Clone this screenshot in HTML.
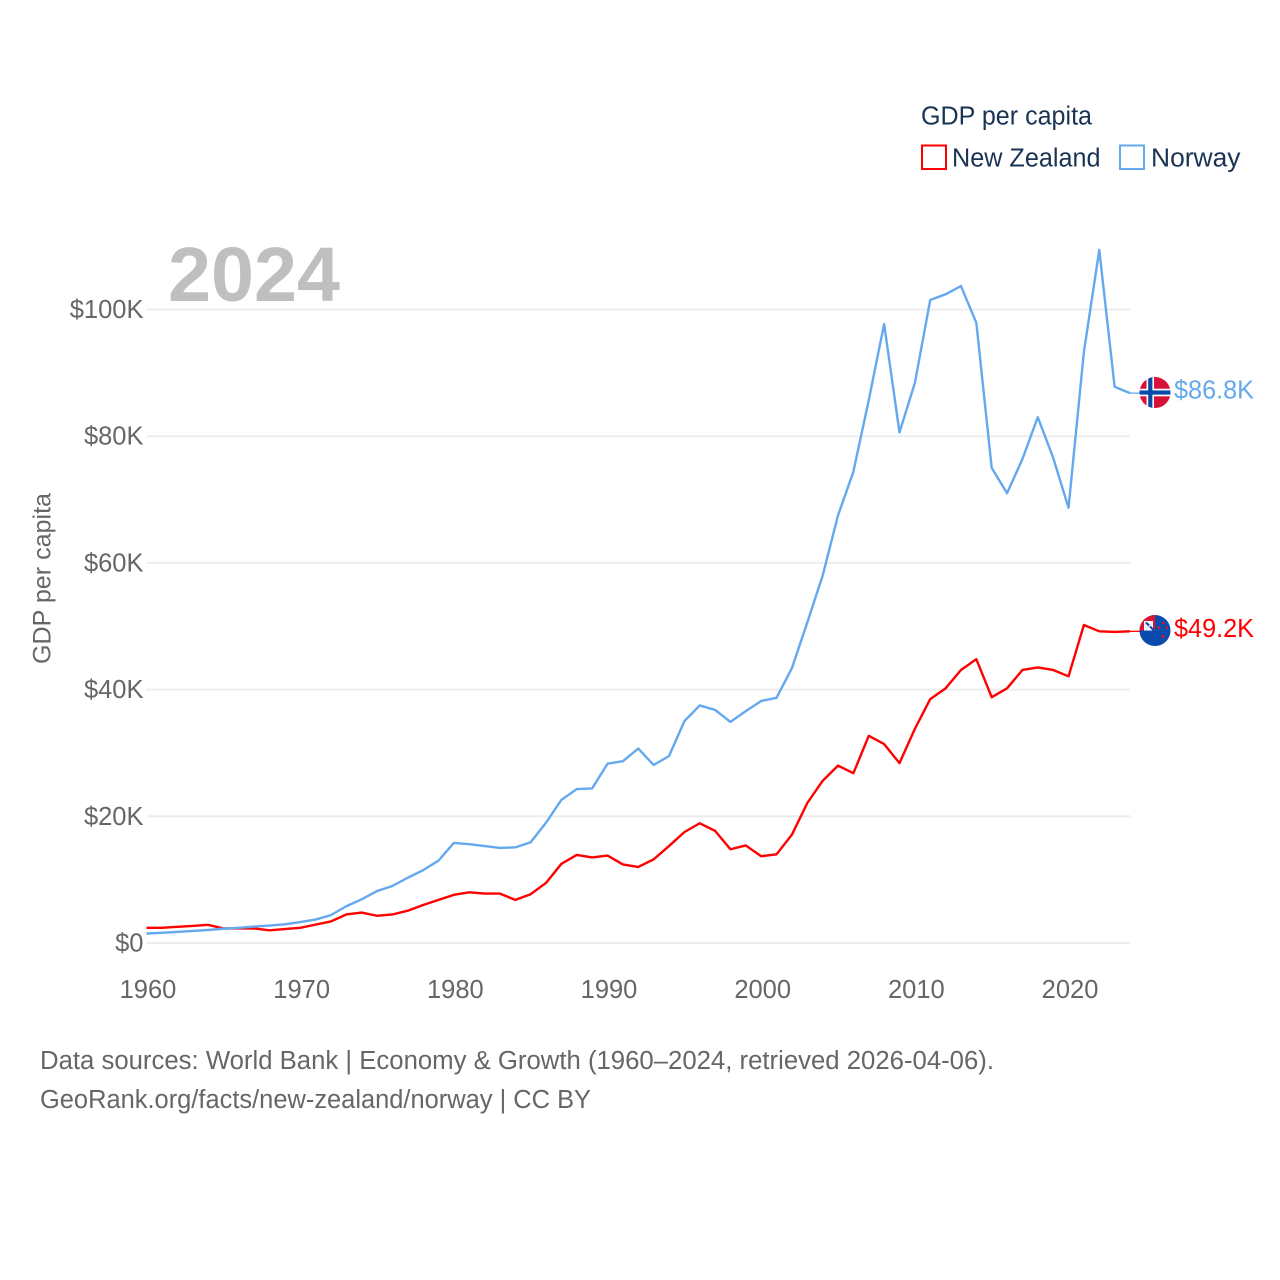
<!DOCTYPE html>
<html lang="en">
<head>
<meta charset="utf-8">
<title>GDP per capita: New Zealand and Norway</title>
<style>
html,body{margin:0;padding:0;background:#fff;}
svg{display:block;font-family:"Liberation Sans",sans-serif;}
</style>
</head>
<body>
<svg id="chart" width="1280" height="1280" viewBox="0 0 1280 1280" xmlns="http://www.w3.org/2000/svg">
  <defs>
    <clipPath id="clip-no"><circle cx="0" cy="0" r="15.5"/></clipPath>
    <clipPath id="clip-nz"><circle cx="0" cy="0" r="15.5"/></clipPath>
  </defs>
  <rect width="1280" height="1280" fill="#fff"/>
  <g id="grid"></g>
  <g id="y-ticks"></g>
  <g id="x-ticks"></g>
  <text x="168" y="301" font-size="77" font-weight="700" fill="#bfbfbf" textLength="172" lengthAdjust="spacingAndGlyphs">2024</text>
  <text transform="translate(50.5,578.5) rotate(-90)" text-anchor="middle" font-size="25" fill="#666" textLength="171" lengthAdjust="spacingAndGlyphs">GDP per capita</text>
  <g id="series"></g>

  <g id="flag-no" clip-path="url(#clip-no)">
    <rect x="-16" y="-16" width="32" height="32" fill="#d8113a"/>
    <rect x="-8.5" y="-16" width="7.5" height="32" fill="#fff"/>
    <rect x="-16" y="-3.8" width="32" height="7.6" fill="#fff"/>
    <rect x="-6.8" y="-16" width="4.2" height="32" fill="#0a4aa8"/>
    <rect x="-16" y="-2.1" width="32" height="4.2" fill="#0a4aa8"/>
  </g>
  <g id="flag-nz" clip-path="url(#clip-nz)">
    <rect x="-16" y="-16" width="32" height="32" fill="#0a4cae"/>
    <rect x="-16" y="-16" width="16" height="16" fill="#e0122f"/>
    <rect x="-11" y="-9.5" width="9" height="9.5" fill="#fff"/>
    <path d="M-9-8 L-1 0" stroke="#0a4cae" stroke-width="2.2"/>
    <path d="M-9-1 L-3-7" stroke="#dfe6f4" stroke-width="1.5"/>
    <circle cx="8" cy="-7.5" r="1.3" fill="#e0122f"/>
    <circle cx="4" cy="-3" r="1.3" fill="#e0122f"/>
    <circle cx="11.5" cy="-3" r="1.3" fill="#e0122f"/>
    <circle cx="8" cy="6" r="1.5" fill="#e0122f"/>
  </g>
  <text id="label-no" font-size="25.5" fill="#64a8ee" textLength="80" lengthAdjust="spacingAndGlyphs"></text>
  <text id="label-nz" font-size="25.5" fill="#ff0000" textLength="80" lengthAdjust="spacingAndGlyphs"></text>

  <g>
    <text x="921" y="124.5" font-size="25.5" fill="#1a3354" textLength="171" lengthAdjust="spacingAndGlyphs">GDP per capita</text>
    <g>
      <rect x="922" y="145.5" width="24" height="23.5" fill="#fff" stroke="#ff0000" stroke-width="2"/>
      <text x="952" y="166.5" font-size="25.5" fill="#1a3354" textLength="148.5" lengthAdjust="spacingAndGlyphs">New Zealand</text>
    </g>
    <g>
      <rect x="1120" y="145.5" width="24" height="23.5" fill="#fff" stroke="#64a8ee" stroke-width="2"/>
      <text x="1151" y="166.5" font-size="25.5" fill="#1a3354" textLength="89.5" lengthAdjust="spacingAndGlyphs">Norway</text>
    </g>
  </g>

  <g>
    <text x="40" y="1069" font-size="25.5" fill="#666" textLength="954" lengthAdjust="spacingAndGlyphs">Data sources: World Bank | Economy &amp; Growth (1960–2024, retrieved 2026-04-06).</text>
    <text x="40" y="1108" font-size="25.5" fill="#666" textLength="551" lengthAdjust="spacingAndGlyphs">GeoRank.org/facts/new-zealand/norway | CC BY</text>
  </g>
</svg>
<script>
const years = [1960,1961,1962,1963,1964,1965,1966,1967,1968,1969,1970,1971,1972,1973,1974,1975,1976,1977,1978,1979,1980,1981,1982,1983,1984,1985,1986,1987,1988,1989,1990,1991,1992,1993,1994,1995,1996,1997,1998,1999,2000,2001,2002,2003,2004,2005,2006,2007,2008,2009,2010,2011,2012,2013,2014,2015,2016,2017,2018,2019,2020,2021,2022,2023,2024];
const newZealand = [2.4,2.4,2.55,2.7,2.87,2.3,2.3,2.3,2.0,2.2,2.4,2.9,3.4,4.5,4.8,4.3,4.5,5.1,6.0,6.8,7.6,8.0,7.8,7.8,6.8,7.7,9.5,12.5,13.9,13.5,13.8,12.4,12.0,13.2,15.3,17.5,18.9,17.7,14.8,15.4,13.7,14.0,17.1,22.1,25.6,28.0,26.8,32.7,31.4,28.4,33.8,38.5,40.2,43.1,44.8,38.8,40.2,43.1,43.5,43.1,42.1,50.2,49.2,49.1,49.2];
const norway = [1.5,1.6,1.75,1.9,2.05,2.25,2.4,2.6,2.75,2.95,3.3,3.7,4.4,5.8,6.9,8.2,9.0,10.3,11.5,13.0,15.8,15.6,15.3,15.0,15.1,15.9,19.0,22.6,24.3,24.4,28.3,28.7,30.7,28.1,29.5,35.0,37.5,36.8,34.9,36.6,38.2,38.7,43.4,50.6,58.0,67.5,74.4,85.7,97.7,80.6,88.4,101.5,102.4,103.7,97.9,75.0,71.0,76.4,83.0,76.6,68.7,93.3,109.4,87.8,86.8];
const yTickValues = [0,20,40,60,80,100];
const yTickLabels = ['$0','$20K','$40K','$60K','$80K','$100K'];
const xTickValues = [1960,1970,1980,1990,2000,2010,2020];
const xTickLabels = ['1960','1970','1980','1990','2000','2010','2020'];

const NS = 'http://www.w3.org/2000/svg';
function xScale(year){ return 146.5 + (year - 1960) * (1130 - 146.5) / 64; }
function yScale(value){ return 943 - value * 6.335; }
function make(tag, attrs, parent){
  const el = document.createElementNS(NS, tag);
  Object.keys(attrs).forEach(function(k){ el.setAttribute(k, attrs[k]); });
  parent.appendChild(el);
  return el;
}

const gridGroup = document.getElementById('grid');
const yGroup = document.getElementById('y-ticks');
yTickValues.forEach(function(v, i){
  const line = make('line', {x1: 147, x2: 1130.5, y1: yScale(v), y2: yScale(v), stroke: '#ededed', 'stroke-width': 2}, gridGroup);
  
  
  const t = make('text', {x: 143.5, y: yScale(v) + 8.5, 'text-anchor': 'end', 'font-size': 25.5, fill: '#666'}, yGroup);
  
  
  t.textContent = yTickLabels[i];
});

const xGroup = document.getElementById('x-ticks');
xTickValues.forEach(function(v, i){
  const t = make('text', {x: xScale(v) + 1.5, y: 998, 'text-anchor': 'middle', 'font-size': 25.5, fill: '#666'}, xGroup);
  
  
  t.textContent = xTickLabels[i];
});

function linePath(values){
  return values.map(function(v, i){
    return (i ? 'L' : 'M') + xScale(years[i]).toFixed(2) + ' ' + yScale(v).toFixed(2);
  }).join(' ');
}

const seriesGroup = document.getElementById('series');

const nzLine = make('path', {d: linePath(newZealand), fill: 'none', stroke: '#ff0000', 'stroke-width': 2.4, 'stroke-linejoin': 'round'}, seriesGroup);



const noLine = make('path', {d: linePath(norway), fill: 'none', stroke: '#64a8ee', 'stroke-width': 2.4, 'stroke-linejoin': 'round'}, seriesGroup);



const lastYear = years[years.length - 1];
const endX = xScale(lastYear);
const nzLast = newZealand[newZealand.length - 1];
const noLast = norway[norway.length - 1];

const nzConnector = make('line', {x1: endX, x2: endX + 12, y1: yScale(nzLast), y2: yScale(nzLast), stroke: '#ff0000', 'stroke-width': 1.3}, seriesGroup);



const noConnector = make('line', {x1: endX, x2: endX + 12, y1: yScale(noLast), y2: yScale(noLast), stroke: '#64a8ee', 'stroke-width': 1.3}, seriesGroup);



document.getElementById('flag-no').setAttribute('transform', 'translate(' + (endX + 25) + ',' + (yScale(noLast) - 0.6) + ')');
document.getElementById('flag-nz').setAttribute('transform', 'translate(' + (endX + 25) + ',' + (yScale(nzLast) - 0.8) + ')');

const labelNo = document.getElementById('label-no');
labelNo.setAttribute('x', endX + 44);
labelNo.setAttribute('y', yScale(noLast) + 5.5);
labelNo.textContent = '$' + noLast.toFixed(1) + 'K';

const labelNz = document.getElementById('label-nz');
labelNz.setAttribute('x', endX + 44);
labelNz.setAttribute('y', yScale(nzLast) + 5.5);
labelNz.textContent = '$' + nzLast.toFixed(1) + 'K';
</script>
</body>
</html>
